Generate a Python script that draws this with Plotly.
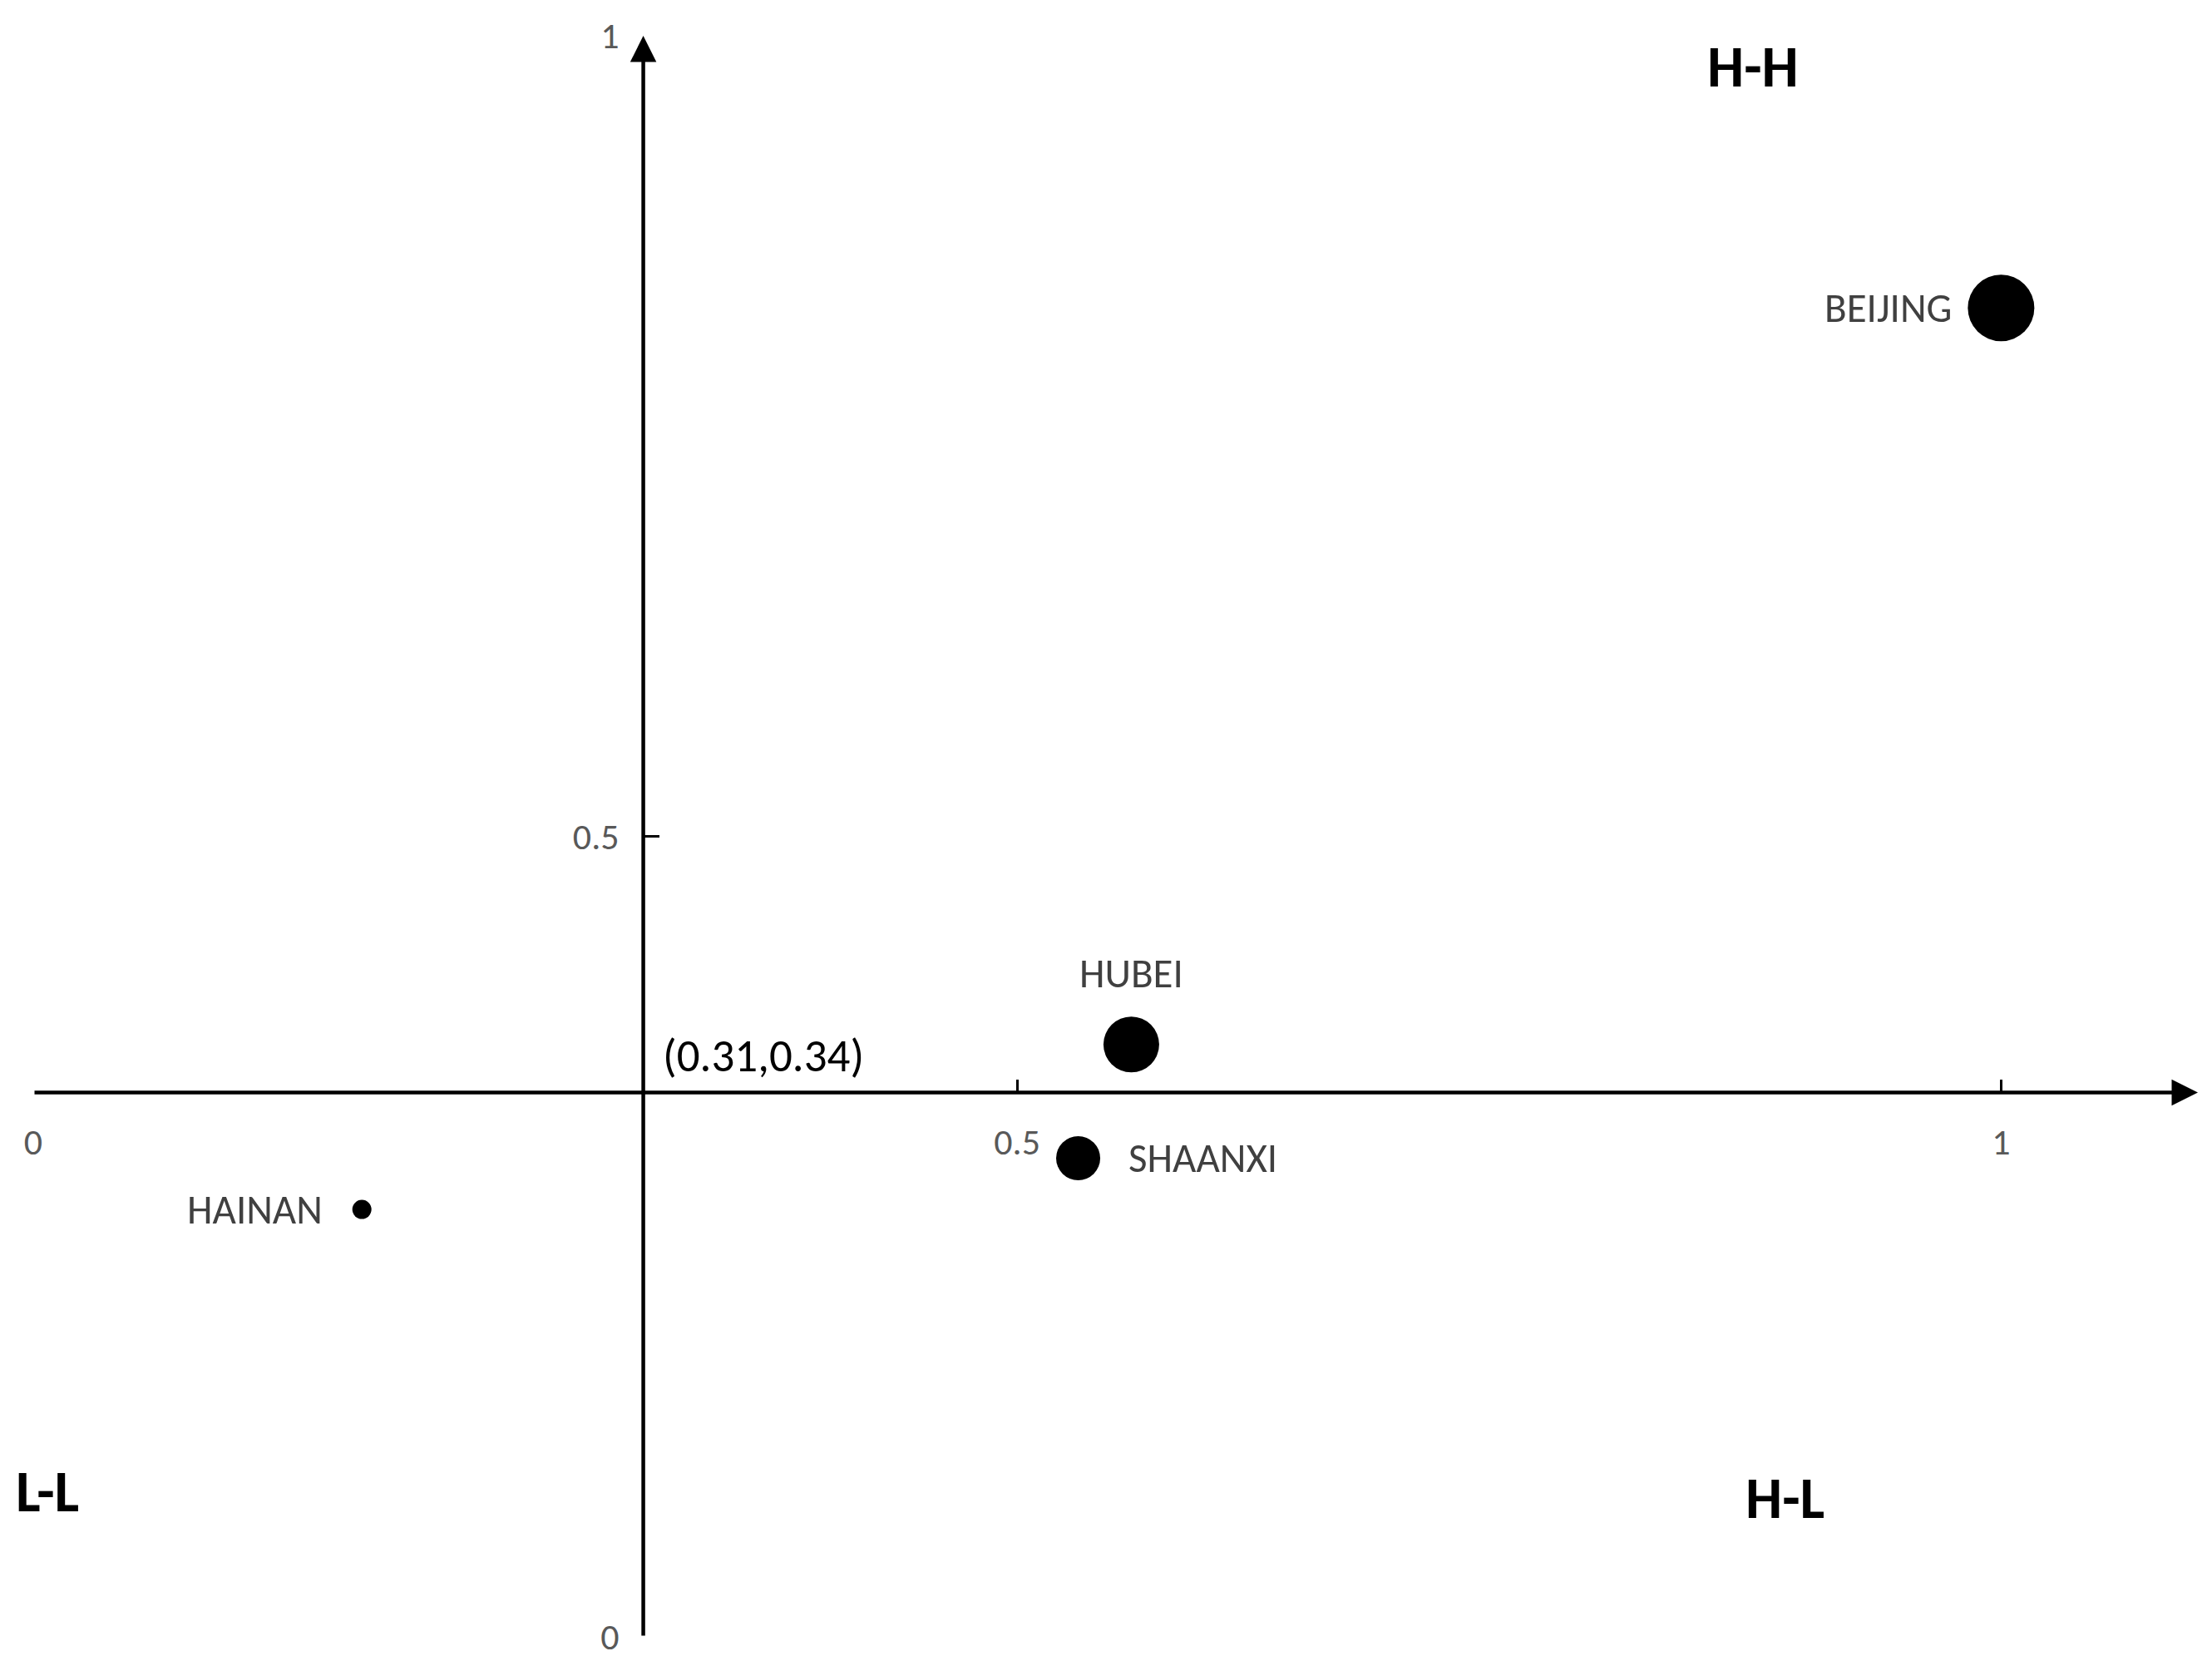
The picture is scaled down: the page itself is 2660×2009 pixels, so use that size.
import plotly.graph_objects as go

# ---------------- data ----------------
PROVINCES = ["BEIJING", "HUBEI", "SHAANXI", "HAINAN"]
X_VALUES = [1.00, 0.558, 0.531, 0.167]
Y_VALUES = [0.830, 0.370, 0.299, 0.267]
BUBBLE_SIZES = [80, 67, 53, 23]

CROSS_X = 0.31
CROSS_Y = 0.34

X_TICKS = [0, 0.5, 1]
X_TICK_TEXT = ["0", "0.5", "1"]
Y_TICKS = [0, 0.5, 1]
Y_TICK_TEXT = ["0", "0.5", "1"]

QUADRANTS = ["H-H", "L-L", "H-L"]
QUAD_X = [0.874, 0.007, 0.890]
QUAD_Y = [0.981, 0.091, 0.087]

# ---------------- layout constants ----------------
X_RANGE = [0, 1.1]
Y_RANGE = [0, 1]
LABEL_SIDES = ["left", "top", "right", "left"]
LABEL_GAPS = [17, 20, 32, 34]

FONT = "Carlito, Calibri, Lato, sans-serif"
# the page body has an 8px default margin, so the figure is 8px smaller
W, H = 2652, 2001

fig = go.Figure()

fig.add_trace(go.Scatter(
    x=X_VALUES, y=Y_VALUES, mode="markers",
    marker=dict(size=BUBBLE_SIZES, color="#000000", opacity=1, line=dict(width=0)),
    cliponaxis=False, hoverinfo="skip", showlegend=False,
))

annotations = []
# axis lines with arrowheads
annotations.append(dict(
    x=X_RANGE[1], y=CROSS_Y, ax=X_RANGE[0], ay=CROSS_Y,
    xref="x", yref="y", axref="x", ayref="y", text="",
    showarrow=True, arrowhead=2, arrowsize=1.4, arrowwidth=4.5, arrowcolor="black",
))
annotations.append(dict(
    x=CROSS_X, y=Y_RANGE[1], ax=CROSS_X, ay=Y_RANGE[0],
    xref="x", yref="y", axref="x", ayref="y", text="",
    showarrow=True, arrowhead=2, arrowsize=1.4, arrowwidth=4.5, arrowcolor="black",
))

# point labels
for name, xv, yv, sz, side, gap in zip(PROVINCES, X_VALUES, Y_VALUES, BUBBLE_SIZES, LABEL_SIDES, LABEL_GAPS):
    a = dict(x=xv, y=yv, xref="x", yref="y", text=name, showarrow=False,
             font=dict(family=FONT, size=49, color="#404040"))
    if side == "left":
        a.update(xanchor="right", yanchor="middle", xshift=-(sz / 2 + gap))
    elif side == "right":
        a.update(xanchor="left", yanchor="middle", xshift=sz / 2 + gap)
    else:
        a.update(xanchor="center", yanchor="bottom", yshift=sz / 2 + gap)
    annotations.append(a)

# crossing point label
annotations.append(dict(
    x=CROSS_X, y=CROSS_Y, xref="x", yref="y",
    text=f"({CROSS_X},{CROSS_Y})", showarrow=False,
    xanchor="left", yanchor="middle", xshift=21, yshift=44,
    font=dict(family=FONT, size=55, color="black"),
))

# quadrant labels
for q, qx, qy in zip(QUADRANTS, QUAD_X, QUAD_Y):
    annotations.append(dict(
        x=qx, y=qy, xref="x", yref="y", text=q, showarrow=False,
        xanchor="center", yanchor="middle",
        font=dict(family=FONT, size=70, color="black", weight="bold"),
    ))

fig.update_layout(
    width=W, height=H, autosize=False,
    margin=dict(l=32, r=17, t=35, b=41, pad=0),
    paper_bgcolor="white", plot_bgcolor="white",
    annotations=annotations,
    xaxis=dict(
        range=X_RANGE, showgrid=False, zeroline=False, showline=False,
        anchor="free", position=(CROSS_Y - Y_RANGE[0]) / (Y_RANGE[1] - Y_RANGE[0]),
        tickmode="array", tickvals=X_TICKS, ticktext=X_TICK_TEXT,
        ticks="inside", ticklen=16, tickwidth=3, tickcolor="black",
        tickfont=dict(family=FONT, size=44, color="#595959"),
        ticklabelstandoff=29, automargin=False, fixedrange=True,
    ),
    yaxis=dict(
        range=Y_RANGE, showgrid=False, zeroline=False, showline=False,
        anchor="free", position=(CROSS_X - X_RANGE[0]) / (X_RANGE[1] - X_RANGE[0]),
        tickmode="array", tickvals=Y_TICKS, ticktext=Y_TICK_TEXT,
        ticks="inside", ticklen=18, tickwidth=3, tickcolor="black",
        tickfont=dict(family=FONT, size=44, color="#595959"),
        ticklabelstandoff=29, automargin=False, fixedrange=True,
    ),
)

fig.write_html("out.html")
